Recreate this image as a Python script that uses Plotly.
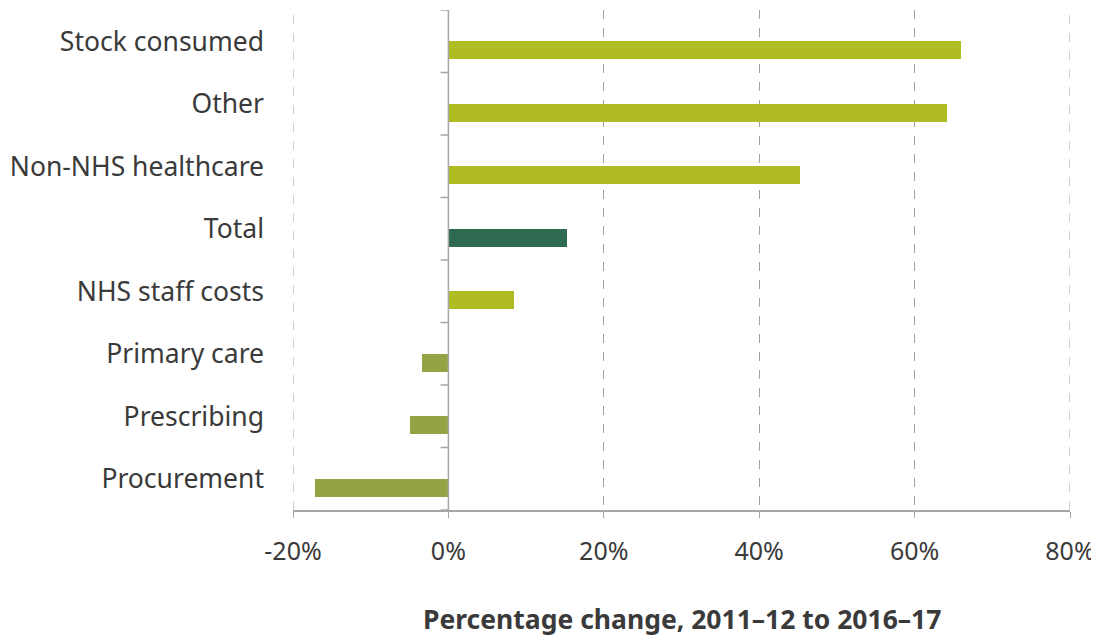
import plotly.graph_objects as go

categories = ["Procurement", "Prescribing", "Primary care", "NHS staff costs",
              "Total", "Non-NHS healthcare", "Other", "Stock consumed"]
values = [-17.2, -4.9, -3.4, 8.4, 15.2, 45.3, 64.2, 66.0]
tick_vals = [-20, 0, 20, 40, 60, 80]
tick_text = ["-20%", "0%", "20%", "40%", "60%", "80%"]
x_title = "<b>Percentage change, 2011–12 to 2016–17</b>"

POS = "#afbc22"
NEG = "#93a445"
TOT = "#2e6a50"
colors = [TOT if c == "Total" else (NEG if v < 0 else POS) for c, v in zip(categories, values)]

fig = go.Figure()
fig.add_trace(go.Bar(
    y=categories, x=values, orientation="h",
    marker=dict(color=colors, line=dict(width=0)),
    width=0.29, offset=-0.29,
    hoverinfo="x+y",
))

shapes = []
for xv in (tick_vals[0], tick_vals[-1]):
    shapes.append(dict(type="line", xref="x", yref="paper", x0=xv, x1=xv, y0=0, y1=1,
                       line=dict(color="#a0a0a0", width=1, dash="dash"), layer="below"))
for i in range(len(categories) + 1):
    shapes.append(dict(type="line", xref="x", yref="y", x0=-1.0, x1=0,
                       y0=i - 0.5, y1=i - 0.5, line=dict(color="#a6a6a6", width=1.5)))
shapes.append(dict(type="line", xref="x", yref="y", x0=0, x1=0,
                   y0=-0.5, y1=len(categories) - 0.5, line=dict(color="#a6a6a6", width=1.5)))
fig.update_layout(shapes=shapes)

fig.add_annotation(text=x_title, xref="paper", yref="paper", x=0.5, y=-0.218,
                   xanchor="center", yanchor="middle", showarrow=False,
                   font=dict(size=26.5, color="#3a3a3a"))

fig.update_layout(
    width=1120, height=640,
    margin=dict(l=285, r=58, t=2, b=138),
    paper_bgcolor="white", plot_bgcolor="white",
    font=dict(family="Noto Sans", size=25, color="#3a3a3a"),
    showlegend=False,
    bargap=0,
    xaxis=dict(
        range=[-20, 80], tickvals=tick_vals, ticktext=tick_text,
        showgrid=True, gridcolor="#a0a0a0", griddash="dash", gridwidth=1,
        zeroline=False, automargin=False,
        showline=True, linecolor="#a6a6a6", linewidth=1.5,
        ticks="outside", ticklen=6, tickcolor="#a6a6a6",
        ticklabelstandoff=12,
        tickfont=dict(size=25),
    ),
    yaxis=dict(
        categoryorder="array", categoryarray=categories,
        range=[-0.5, len(categories) - 0.5],
        showgrid=False, zeroline=False, showline=False, automargin=False,
        ticks="", ticklabelstandoff=28,
        tickfont=dict(size=26.5),
    ),
)

fig.write_html("out.html")
